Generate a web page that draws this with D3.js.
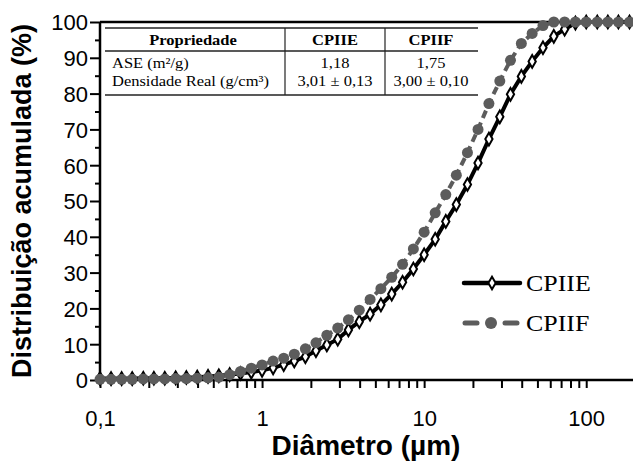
<!DOCTYPE html>
<html>
<head>
<meta charset="utf-8">
<script src="https://cdn.jsdelivr.net/npm/d3@7"></script>
<style>
  body { margin: 0; background: #fff; }
  svg { display: block; }
  .tick text { font-family: "Liberation Sans", Arial, sans-serif; font-size: 22px; fill: #000; }
  .tbl { font-family: "Liberation Serif", "Times New Roman", serif; font-size: 15px; fill: #000; }
</style>
</head>
<body>
<svg id="chart" width="633" height="461"></svg>
<script>
// diameters (µm), log-spaced
const diam = [0.100, 0.117, 0.136, 0.158, 0.185, 0.215, 0.251, 0.293, 0.341, 0.398,
              0.464, 0.541, 0.631, 0.736, 0.858, 1.00, 1.17, 1.36, 1.58, 1.85,
              2.15, 2.51, 2.93, 3.41, 3.98, 4.64, 5.41, 6.31, 7.36, 8.58,
              10.0, 11.7, 13.6, 15.8, 18.5, 21.5, 25.1, 29.3, 34.1, 39.8,
              46.4, 54.1, 63.1, 73.6, 85.8, 100, 117, 136, 158, 185];
// cumulative distribution (%)
const cpiie = [0.4, 0.4, 0.4, 0.4, 0.5, 0.5, 0.5, 0.6, 0.7, 0.8,
               1.0, 1.2, 1.5, 1.8, 2.2, 2.7, 3.4, 4.3, 5.3, 6.5,
               8.2, 9.8, 11.4, 14.0, 16.3, 18.4, 21.0, 24.0, 27.3, 31.0,
               35.0, 39.3, 44.3, 49.0, 54.6, 60.6, 67.3, 73.5, 79.8, 84.8,
               89.0, 92.8, 96.0, 98.0, 99.7, 100, 100, 100, 100, 100];
const cpiif = [0.2, 0.2, 0.2, 0.2, 0.3, 0.3, 0.3, 0.4, 0.4, 0.5,
               0.6, 0.8, 1.5, 2.4, 3.3, 4.2, 5.3, 6.1, 7.2, 8.7,
               10.4, 12.5, 14.5, 16.8, 19.5, 22.5, 25.5, 28.7, 32.3, 36.6,
               41.3, 46.7, 51.8, 57.2, 63.5, 70.0, 77.2, 83.5, 89.3, 94.0,
               96.8, 99.0, 100, 100, 100, 100, 100, 100, 100, 100];

const xMajor = [0.1, 1, 10, 100];
const xLabels = ["0,1", "1", "10", "100"];
const xMinor = [0.2, 0.3, 0.4, 0.5, 0.6, 0.7, 0.8, 0.9, 2, 3, 4, 5, 6, 7, 8, 9,
                20, 30, 40, 50, 60, 70, 80, 90];
const yMajor = [0, 10, 20, 30, 40, 50, 60, 70, 80, 90, 100];
const yMinor = [5, 15, 25, 35, 45, 55, 65, 75, 85, 95];

const tableHead = ["Propriedade", "CPIIE", "CPIIF"];
const tableRows = [
  ["ASE (m²/g)", "1,18", "1,75"],
  ["Densidade Real (g/cm³)", "3,01 ± 0,13", "3,00 ± 0,10"]
];

const GREY = "#5c5c5c";
const svg = d3.select("#chart");

const x = d3.scaleLog().domain([0.1, 200]).range([100, 635]);
const y = d3.scaleLinear().domain([0, 100]).range([380, 22]);

// top frame line
svg.append("line")
  .attr("x1", 100).attr("x2", 633).attr("y1", y(100)).attr("y2", y(100))
  .attr("stroke", "#000").attr("stroke-width", 2.5);

// x axis
const xAxis = svg.append("g").attr("transform", `translate(0,${y(0)})`)
  .call(d3.axisBottom(x).tickValues(xMajor.concat(xMinor)).tickSize(8).tickPadding(22)
    .tickFormat(d => { const i = xMajor.indexOf(d); return i >= 0 ? xLabels[i] : ""; }));
xAxis.select(".domain").attr("stroke-width", 2.5).attr("d", `M100,0H633`);
xAxis.selectAll(".tick line").attr("stroke-width", 2);

// y axis
const yAxis = svg.append("g").attr("transform", `translate(${x(0.1)},0)`)
  .call(d3.axisLeft(y).tickValues(yMajor.concat(yMinor)).tickSize(10).tickPadding(2)
    .tickFormat(d => yMajor.includes(d) ? d : ""));
yAxis.select(".domain").attr("stroke-width", 2.5).attr("d", `M0,${y(0)}V${y(100)}`);
yAxis.selectAll(".tick line").attr("stroke-width", 2)
  .attr("x2", d => yMajor.includes(d) ? -10 : -5);
yAxis.selectAll(".tick text").attr("dy", "0.36em");

// axis titles
svg.append("text")
  .attr("transform", `translate(31,${(y(0) + y(100)) / 2}) rotate(-90)`)
  .attr("text-anchor", "middle")
  .style("font-family", "'Liberation Sans', Arial, sans-serif")
  .style("font-size", "27px").style("font-weight", "bold")
  .text("Distribuição acumulada (%)");
svg.append("text")
  .attr("x", 366).attr("y", 455)
  .attr("text-anchor", "middle")
  .style("font-family", "'Liberation Sans', Arial, sans-serif")
  .style("font-size", "28px").style("font-weight", "bold")
  .text("Diâmetro (µm)");

// series
const pts1 = diam.map((d, i) => [d, cpiie[i]]);
const pts2 = diam.map((d, i) => [d, cpiif[i]]);
const line = d3.line().x(d => x(d[0])).y(d => y(d[1]));
const diamond = d3.symbol().type(d3.symbolDiamond).size(46);

svg.append("path").datum(pts1).attr("d", line)
  .attr("fill", "none").attr("stroke", "#000").attr("stroke-width", 4);
svg.append("g").selectAll("path").data(pts1).join("path")
  .attr("transform", d => `translate(${x(d[0])},${y(d[1])})`)
  .attr("d", diamond).attr("fill", "#fff").attr("stroke", "#000").attr("stroke-width", 2);

svg.append("path").datum(pts2).attr("d", line)
  .attr("fill", "none").attr("stroke", GREY).attr("stroke-width", 4)
  .attr("stroke-dasharray", "8,5");
svg.append("g").selectAll("circle").data(pts2).join("circle")
  .attr("cx", d => x(d[0])).attr("cy", d => y(d[1])).attr("r", 5.5)
  .attr("fill", GREY);

// serif text, slightly stretched sideways like the source
function serif(g, tx, ty, str, anchor, size, sx, bold) {
  return g.append("text").attr("class", "tbl")
    .attr("transform", `translate(${tx},${ty}) scale(${sx},1)`)
    .attr("text-anchor", anchor)
    .style("font-size", size + "px")
    .style("font-weight", bold ? "bold" : "normal")
    .text(str);
}

// legend
const lg = svg.append("g");
lg.append("line").attr("x1", 464).attr("x2", 520).attr("y1", 283).attr("y2", 283)
  .attr("stroke", "#000").attr("stroke-width", 4.5).attr("stroke-linecap", "round");
lg.append("path").attr("transform", "translate(492,283)").attr("d", diamond)
  .attr("fill", "#fff").attr("stroke", "#000").attr("stroke-width", 2);
serif(lg, 526, 291, "CPIIE", "start", 24, 1.08, false);
[[465, 477], [505, 517]].forEach(s => {
  lg.append("line").attr("x1", s[0]).attr("x2", s[1]).attr("y1", 323).attr("y2", 323)
    .attr("stroke", GREY).attr("stroke-width", 5).attr("stroke-linecap", "round");
});
lg.append("circle").attr("cx", 491).attr("cy", 323).attr("r", 6).attr("fill", GREY);
serif(lg, 526, 331, "CPIIF", "start", 24, 1.08, false);

// property table
const tb = svg.append("g");
const colX = [105, 285, 385, 478];
const colC = [193, 335, 431];
[28, 51, 95].forEach(ly => {
  tb.append("line").attr("x1", colX[0]).attr("x2", colX[3]).attr("y1", ly).attr("y2", ly)
    .attr("stroke", "#222").attr("stroke-width", 1.5);
});
[colX[1], colX[2]].forEach(cx => {
  tb.append("line").attr("x1", cx).attr("x2", cx).attr("y1", 28).attr("y2", 95)
    .attr("stroke", "#222").attr("stroke-width", 1.2);
});
tableHead.forEach((t, i) => serif(tb, colC[i], 45, t, "middle", 15, 1.1, true));
tableRows.forEach((r, j) => {
  const yy = 68 + j * 18;
  r.forEach((t, i) => serif(tb, i === 0 ? 112 : colC[i], yy, t, i === 0 ? "start" : "middle", 15, 1.1, false));
});
</script>
</body>
</html>
